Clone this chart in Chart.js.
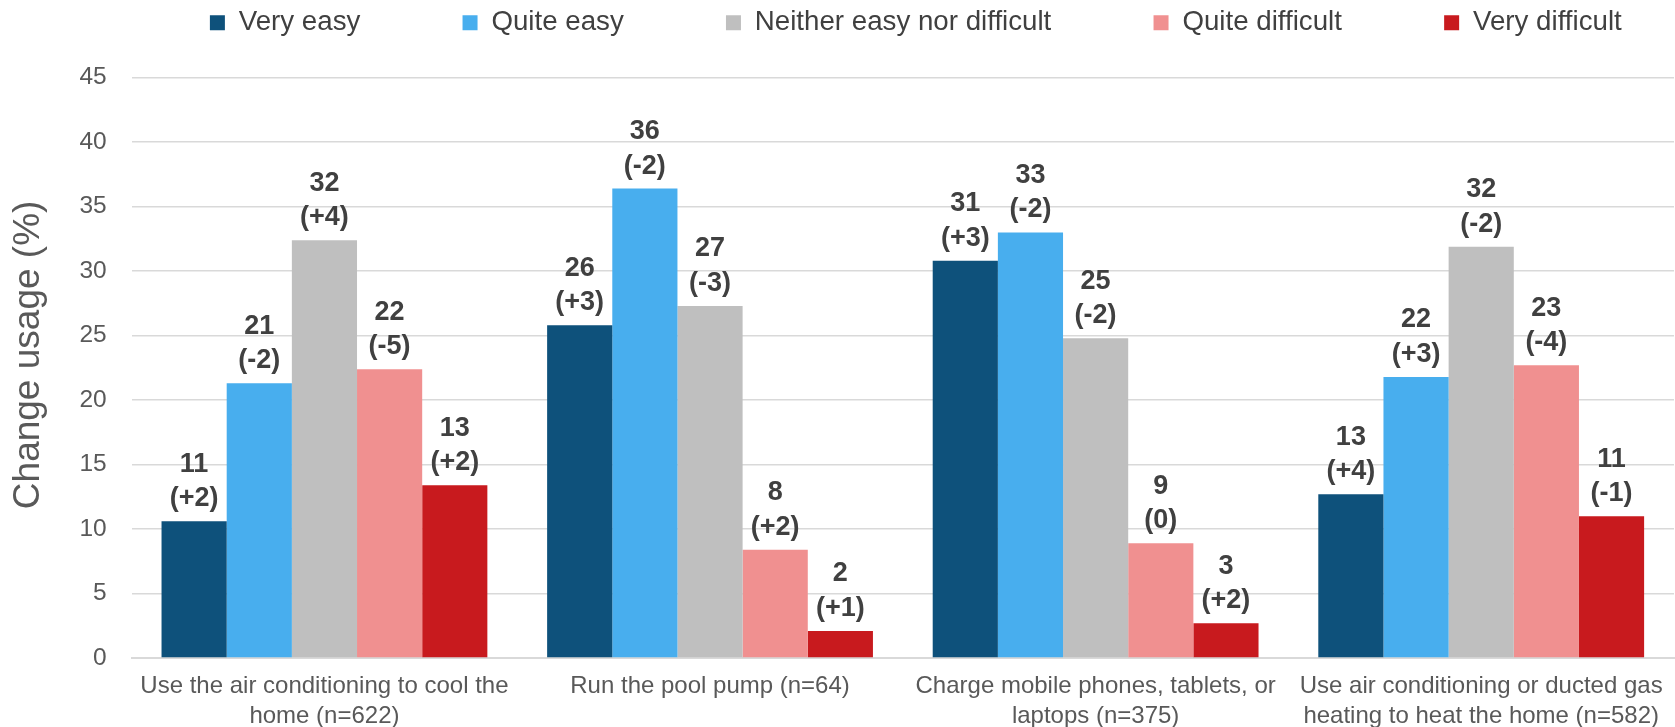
<!DOCTYPE html>
<html>
<head>
<meta charset="utf-8">
<title>Change usage</title>
<script src="https://cdn.jsdelivr.net/npm/chart.js@4.4.1/dist/chart.umd.min.js"></script>
<style>
  html, body { margin: 0; padding: 0; background: #ffffff; }
  #wrap { width: 1675px; height: 727px; position: relative; }
</style>
</head>
<body>
<div id="wrap"><canvas id="mainChart"></canvas></div>
<script>
// categorias (duas linhas cada)
const categorias = [
  ["Use the air conditioning to cool the", "home (n=622)"],
  ["Run the pool pump (n=64)"],
  ["Charge mobile phones, tablets, or", "laptops (n=375)"],
  ["Use air conditioning or ducted gas", "heating to heat the home (n=582)"]
];

// valores (%)
const muitoFacil = [10.6, 25.8, 30.8, 12.7];
const bemFacil = [21.3, 36.4, 33.0, 21.8];
const neutro = [32.4, 27.3, 24.8, 31.9];
const bemDificil = [22.4, 8.4, 8.9, 22.7];
const muitoDificil = [13.4, 2.1, 2.7, 11.0];

// variacao mostrada entre parenteses
const varMuitoFacil = ["+2", "+3", "+3", "+4"];
const varBemFacil = ["-2", "-2", "-2", "+3"];
const varNeutro = ["+4", "-3", "-2", "-2"];
const varBemDificil = ["-5", "+2", "0", "-4"];
const varMuitoDificil = ["+2", "+1", "+2", "-1"];

const FONTE = "'Liberation Sans', Arial, sans-serif";

// rotulos em cima das barras
const rotulosBarras = {
  id: "rotulosBarras",
  afterDatasetsDraw(chart) {
    const ctx = chart.ctx;
    ctx.save();
    ctx.font = "bold 27px " + FONTE;
    ctx.fillStyle = "#404040";
    ctx.textAlign = "center";
    ctx.textBaseline = "alphabetic";
    chart.data.datasets.forEach((ds, i) => {
      const meta = chart.getDatasetMeta(i);
      meta.data.forEach((bar, j) => {
        const v = ds.data[j];
        ctx.fillText(String(Math.round(v)), bar.x, bar.y - 15 - 34.5);
        ctx.fillText("(" + ds.variacao[j] + ")", bar.x, bar.y - 15);
      });
    });
    ctx.restore();
  }
};

// espaco entre legenda e grafico + leve deslocamento pra direita
const espacoLegenda = {
  id: "espacoLegenda",
  beforeLayout(chart) {
    const lg = chart.legend;
    if (!lg || lg._espaco) return;
    const fitOriginal = lg.fit;
    lg.fit = function () {
      fitOriginal.call(this);
      this.height += 31;
    };
    lg._espaco = true;
  },
  afterLayout(chart) {
    if (chart.legend) chart.legend.left += 26;
  }
};

const ctx = document.getElementById("mainChart").getContext("2d");

const mainChart = new Chart(ctx, {
  type: "bar",
  data: {
    labels: categorias,
    datasets: [
      { label: "Very easy", data: muitoFacil, variacao: varMuitoFacil, backgroundColor: "#0E517B" },
      { label: "Quite easy", data: bemFacil, variacao: varBemFacil, backgroundColor: "#48AEEE" },
      { label: "Neither easy nor difficult", data: neutro, variacao: varNeutro, backgroundColor: "#BFBFBF" },
      { label: "Quite difficult", data: bemDificil, variacao: varBemDificil, backgroundColor: "#F09090" },
      { label: "Very difficult", data: muitoDificil, variacao: varMuitoDificil, backgroundColor: "#C81A1E" }
    ]
  },
  options: {
    responsive: true,
    maintainAspectRatio: false,
    animation: false,
    layout: { padding: { top: 0, right: 1, bottom: 0, left: 0 } },
    datasets: {
      bar: { barPercentage: 1, categoryPercentage: 0.845, borderWidth: 0 }
    },
    plugins: {
      tooltip: { enabled: false },
      legend: {
        position: "top",
        fullSize: false,
        labels: {
          boxWidth: 15,
          boxHeight: 15,
          padding: 9,
          color: "#404040",
          font: { family: FONTE, size: 27.7 },
          generateLabels(chart) {
            const itens = Chart.defaults.plugins.legend.labels.generateLabels(chart);
            itens.forEach((it, i) => {
              if (i < itens.length - 1) it.text = it.text + "\u2003\u2003\u2003\u2009\u2006";
            });
            return itens;
          }
        }
      }
    },
    scales: {
      x: {
        grid: { display: false, drawTicks: false },
        border: { display: true, color: "#D9D9D9", width: 2 },
        ticks: {
          color: "#595959",
          padding: 13,
          maxRotation: 0,
          autoSkip: false,
          font: { family: FONTE, size: 24, lineHeight: 1.25 }
        },
        afterFit(scale) {
          scale.paddingLeft = 0;
          scale.paddingRight = 0;
          scale.height = 69;
        }
      },
      y: {
        min: 0,
        max: 45,
        grid: { color: "#D9D9D9", lineWidth: 1.5, drawTicks: false },
        border: { display: false },
        ticks: {
          stepSize: 5,
          color: "#595959",
          padding: 25,
          font: { family: FONTE, size: 24.5 }
        },
        title: {
          display: true,
          text: "\u2002\u2009Change usage (%)",
          color: "#595959",
          padding: { top: 7, bottom: 3 },
          font: { family: FONTE, size: 37, lineHeight: 1.2 }
        }
      }
    }
  },
  plugins: [rotulosBarras, espacoLegenda]
});
</script>
</body>
</html>
